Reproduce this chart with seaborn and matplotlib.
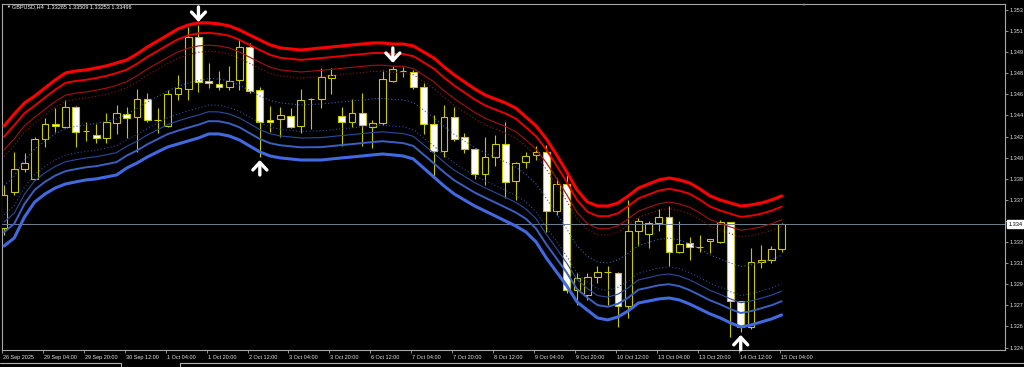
import numpy as np
import pandas as pd
import matplotlib
matplotlib.use("Agg")
import matplotlib.pyplot as plt
import matplotlib.transforms as mtransforms
from matplotlib.lines import Line2D
import seaborn as sns

# ---------------- data ----------------
symbol = "GBPUSD,H4"

opens = [
    1.33465, 1.33777, 1.33976, 1.33890, 1.34236, 1.34367, 1.34341, 1.34514, 1.34306, 1.34271,
    1.34245, 1.34375, 1.34453, 1.34427, 1.34583, 1.34401, 1.34349, 1.34627, 1.34670, 1.35121,
    1.34740, 1.34714, 1.34687, 1.34748, 1.35034, 1.34661, 1.34401, 1.34410, 1.34436, 1.34349,
    1.34583, 1.34583, 1.34766, 1.34436, 1.34384, 1.34462, 1.34341, 1.34375, 1.34740, 1.34826,
    1.34818, 1.34687, 1.34367, 1.34132, 1.34427, 1.34254, 1.34150, 1.33933, 1.34080, 1.34193,
    1.33872, 1.34037, 1.34098, 1.34124, 1.33612, 1.33846, 1.32927, 1.32883, 1.33040, 1.33083,
    1.33074, 1.32788, 1.33439, 1.33413, 1.33508, 1.33560, 1.33256, 1.33334, 1.33300, 1.33352,
    1.33343, 1.33517, 1.32831, 1.32606, 1.33170, 1.33187, 1.33285]

highs = [
    1.33838, 1.34124, 1.34115, 1.34254, 1.34419, 1.34505, 1.34575, 1.34523, 1.34384, 1.34367,
    1.34462, 1.34531, 1.34514, 1.34670, 1.34635, 1.34505, 1.34661, 1.34792, 1.35208, 1.35225,
    1.34896, 1.34826, 1.34870, 1.35104, 1.35069, 1.34687, 1.34523, 1.34514, 1.34505, 1.34670,
    1.34592, 1.34852, 1.34852, 1.34514, 1.34583, 1.34635, 1.34401, 1.34835, 1.34870, 1.34861,
    1.34835, 1.34722, 1.34445, 1.34531, 1.34514, 1.34289, 1.34158, 1.34254, 1.34271, 1.34384,
    1.34037, 1.34124, 1.34176, 1.34184, 1.33898, 1.33959, 1.33074, 1.33074, 1.33135, 1.33135,
    1.33083, 1.33707, 1.33551, 1.33525, 1.33629, 1.33655, 1.33525, 1.33387, 1.33404, 1.33369,
    1.33534, 1.33520, 1.32835, 1.33291, 1.33317, 1.33308, 1.33509]

lows = [
    1.33404, 1.33751, 1.33950, 1.33881, 1.34167, 1.34297, 1.34332, 1.34167, 1.34219, 1.34202,
    1.34202, 1.34280, 1.34245, 1.34124, 1.34384, 1.34289, 1.34341, 1.34575, 1.34575, 1.34644,
    1.34679, 1.34661, 1.34661, 1.34661, 1.34635, 1.34080, 1.34297, 1.34254, 1.34332, 1.34289,
    1.34323, 1.34505, 1.34627, 1.34176, 1.34341, 1.34176, 1.34158, 1.34358, 1.34731, 1.34774,
    1.34670, 1.34280, 1.33907, 1.34080, 1.34219, 1.34115, 1.33890, 1.33838, 1.34002, 1.33725,
    1.33707, 1.33985, 1.34054, 1.33430, 1.33577, 1.32901, 1.32797, 1.32840, 1.32988, 1.32797,
    1.32606, 1.32684, 1.33308, 1.33291, 1.33439, 1.33135, 1.33248, 1.33187, 1.33256, 1.33248,
    1.33334, 1.32519, 1.32563, 1.32589, 1.33118, 1.33161, 1.33253]

closes = [
    1.33751, 1.33976, 1.34028, 1.34236, 1.34367, 1.34349, 1.34514, 1.34297, 1.34303, 1.34245,
    1.34384, 1.34462, 1.34419, 1.34583, 1.34401, 1.34398, 1.34627, 1.34679, 1.35121, 1.34731,
    1.34722, 1.34687, 1.34740, 1.35034, 1.34653, 1.34384, 1.34384, 1.34445, 1.34341, 1.34575,
    1.34580, 1.34774, 1.34792, 1.34384, 1.34462, 1.34358, 1.34375, 1.34757, 1.34844, 1.34823,
    1.34687, 1.34367, 1.34132, 1.34427, 1.34236, 1.34150, 1.33933, 1.34080, 1.34193, 1.33864,
    1.34028, 1.34089, 1.34124, 1.33612, 1.33846, 1.32927, 1.33031, 1.33040, 1.33083, 1.33080,
    1.32788, 1.33439, 1.33525, 1.33508, 1.33560, 1.33256, 1.33326, 1.33300, 1.33297, 1.33369,
    1.33517, 1.32831, 1.32606, 1.33170, 1.33187, 1.33282, 1.33496]

# outer band lines (thick red / thick blue)
band_upper = [
    1.34349, 1.34453, 1.34549, 1.34609, 1.34679, 1.34748, 1.34809, 1.34826, 1.34835, 1.34852,
    1.34870, 1.34896, 1.34922, 1.34974, 1.35034, 1.35086, 1.35138, 1.35191, 1.35225, 1.35243,
    1.35243, 1.35234, 1.35217, 1.35182, 1.35138, 1.35095, 1.35052, 1.35026, 1.35017, 1.35008,
    1.35017, 1.35026, 1.35034, 1.35043, 1.35052, 1.35060, 1.35069, 1.35069, 1.35060, 1.35060,
    1.35043, 1.34991, 1.34939, 1.34861, 1.34792, 1.34731, 1.34670, 1.34618, 1.34583, 1.34549,
    1.34505, 1.34427, 1.34349, 1.34236, 1.34098, 1.33950, 1.33794, 1.33690, 1.33655, 1.33655,
    1.33681, 1.33742, 1.33811, 1.33846, 1.33881, 1.33898, 1.33881, 1.33855, 1.33803, 1.33742,
    1.33707, 1.33681, 1.33655, 1.33664, 1.33681, 1.33707, 1.33742]

band_lower = [
    1.33308, 1.33378, 1.33560, 1.33690, 1.33759, 1.33811, 1.33846, 1.33864, 1.33881, 1.33890,
    1.33907, 1.33924, 1.33985, 1.34028, 1.34080, 1.34124, 1.34167, 1.34193, 1.34219, 1.34245,
    1.34280, 1.34280, 1.34262, 1.34228, 1.34176, 1.34124, 1.34089, 1.34072, 1.34063, 1.34054,
    1.34054, 1.34054, 1.34063, 1.34072, 1.34080, 1.34089, 1.34098, 1.34106, 1.34098, 1.34089,
    1.34063, 1.33985, 1.33907, 1.33829, 1.33759, 1.33707, 1.33655, 1.33612, 1.33569, 1.33525,
    1.33482, 1.33430, 1.33343, 1.33204, 1.33083, 1.32962, 1.32823, 1.32753, 1.32684, 1.32667,
    1.32693, 1.32745, 1.32814, 1.32831, 1.32849, 1.32857, 1.32840, 1.32805, 1.32762, 1.32719,
    1.32684, 1.32641, 1.32606, 1.32623, 1.32649, 1.32675, 1.32710]

signal_down = [19, 38]
signal_up = [25, 72]

x_tick_labels = ["26 Sep 2025", "29 Sep 04:00", "29 Sep 20:00", "30 Sep 12:00", "1 Oct 04:00",
                 "1 Oct 20:00", "2 Oct 12:00", "3 Oct 04:00", "3 Oct 20:00", "6 Oct 12:00",
                 "7 Oct 04:00", "7 Oct 20:00", "8 Oct 12:00", "9 Oct 04:00", "9 Oct 20:00",
                 "10 Oct 12:00", "13 Oct 04:00", "13 Oct 20:00", "14 Oct 12:00", "15 Oct 04:00"]
x_tick_step = 4

y_tick_values = [1.35355, 1.35172, 1.34989, 1.34806, 1.34623, 1.34440, 1.34257, 1.34074, 1.33891,
                 1.33708, 1.33525, 1.33342, 1.33159, 1.32976, 1.32793, 1.32610, 1.32427]
y_tick_labels = ["1.353", "1.351", "1.349", "1.348", "1.346", "1.344", "1.342", "1.340", "1.338",
                 "1.337", "", "1.333", "1.331", "1.329", "1.327", "1.326", "1.324"]

# ---------------- style ----------------
sns.set_theme(style="dark", rc={"axes.facecolor": "black", "figure.facecolor": "black",
                                "axes.grid": False})
plt.rcParams["font.family"] = ["Liberation Sans", "DejaVu Sans"]

W, H = 1024, 367
fig = plt.figure(figsize=(W / 100, H / 100), dpi=100)
fig.patch.set_facecolor("black")
ax = fig.add_axes([2 / W, 1 - 350 / H, 1003 / W, 346 / H])
ax.set_facecolor("black")

o = np.array(opens); h = np.array(highs); l = np.array(lows); c = np.array(closes)
idx = np.arange(len(o))
df = pd.DataFrame({"bar": idx, "open": o, "high": h, "low": l, "close": c,
                   "upper": band_upper, "lower": band_lower})

edge = "#c8c800"
bull = df["close"] >= df["open"]

# wicks
ax.vlines(df["bar"], df["low"], df["high"], color=edge, lw=0.8, zorder=2)
# bodies
body_bottom = np.minimum(o, c)
body_height = np.abs(c - o)
ax.bar(df["bar"], body_height, bottom=body_bottom, width=0.66,
       color=np.where(bull, "black", "white"), edgecolor=edge, linewidth=0.8, zorder=3)

# current price line
ax.axhline(c[-1], color="#6f8090", lw=0.7, zorder=3.5)

# bands
center = (df["upper"] + df["lower"]) / 2
half = (df["upper"] - df["lower"]) / 2
dot = (0, (1, 2))
band_specs = [
    (1.00, "#ff0000", 2.2, "-"),
    (0.82, "#e80000", 1.4, "-"),
    (0.60, "#a81010", 0.8, "-"),
    (0.49, "#8a1818", 0.8, dot),
    (0.00, "#3a5cb0", 0.8, dot),
    (-0.48, "#2c4a98", 0.8, dot),
    (-0.60, "#2a4c9e", 0.8, "-"),
    (-0.77, "#3a60c4", 1.4, "-"),
    (-1.00, "#4169e1", 2.2, "-"),
]
for frac, col, lw, ls in band_specs:
    sns.lineplot(x=df["bar"], y=center + frac * half, ax=ax, color=col,
                 linewidth=lw, linestyle=ls, zorder=4)

# signal arrows
arrow_len = 0.0013
gap = 0.00026
aprops = dict(arrowstyle="->,head_width=0.42,head_length=0.45", color="white", lw=2.4,
              shrinkA=0, shrinkB=0)
for i in signal_down:
    ax.annotate("", xy=(i, h[i] + gap), xytext=(i, h[i] + gap + arrow_len),
                arrowprops=aprops, zorder=6)
for i in signal_up:
    ax.annotate("", xy=(i, l[i] - gap), xytext=(i, l[i] - gap - arrow_len),
                arrowprops=aprops, zorder=6)

# axes limits
ax.set_xlim(-0.15, 97.83)
ax.set_ylim(1.32406, 1.35407)
ax.set_xlabel("")
ax.set_ylabel("")

# spines
for s in ax.spines.values():
    s.set_color("#a8a8a8")
    s.set_linewidth(0.8)
    s.set_visible(True)

fs = 4.0
tc = "#e2e2e2"
ax.yaxis.tick_right()
ax.set_yticks(y_tick_values)
ax.set_yticklabels(y_tick_labels)
ax.tick_params(axis="y", which="both", right=True, left=False, length=2.2, width=0.6,
               color="#a8a8a8", labelsize=fs, labelcolor=tc, pad=1.0, direction="out")

xt = idx[::x_tick_step] - 0.2
ax.set_xticks(xt)
ax.set_xticklabels(x_tick_labels)
ax.tick_params(axis="x", which="both", bottom=True, length=2.5, width=0.6, color="#a8a8a8",
               labelsize=fs, labelcolor=tc, pad=1.2, direction="out")
for lab in ax.get_xticklabels():
    lab.set_horizontalalignment("left")
    lab.set_transform(lab.get_transform() + mtransforms.ScaledTranslation(1 / 100, 0, fig.dpi_scale_trans))

# current price box
blend = mtransforms.blended_transform_factory(ax.transAxes, ax.transData)
ax.text(1.0035, c[-1], f"{c[-1]:.5f}"[:5], transform=blend, ha="left", va="center",
        fontsize=fs, color="black", clip_on=False, zorder=10,
        bbox=dict(boxstyle="square,pad=0.25", facecolor="white", edgecolor="white"))

# title
title = f"{symbol}  {o[-1]:.5f} {h[-1]:.5f} {l[-1]:.5f} {c[-1]:.5f}"
fig.text(6 / W, 1 - 7 / H, "\u25BC", fontsize=2.8, color="white", va="center", ha="left")
fig.text(12.5 / W, 1 - 7 / H, title, fontsize=fs, color="white", va="center", ha="left")
# chart shift marker
fig.text(803 / W, 1 - 4.5 / H, "\u25BC", fontsize=3.2, color="#8c8c8c", va="center", ha="center")

# bottom tab strip
ty = 1 - 363 / H
fig.add_artist(Line2D([0, 121 / W], [ty, ty], color="#b0b0b0", lw=0.8))
fig.add_artist(Line2D([121 / W, 121 / W], [ty, 0], color="#b0b0b0", lw=0.8))
fig.add_artist(Line2D([180 / W, 1], [ty, ty], color="#b0b0b0", lw=0.8))
fig.add_artist(Line2D([180 / W, 180 / W], [ty, 0], color="#b0b0b0", lw=0.8))

fig.savefig("out.png", dpi=100, facecolor="black")
